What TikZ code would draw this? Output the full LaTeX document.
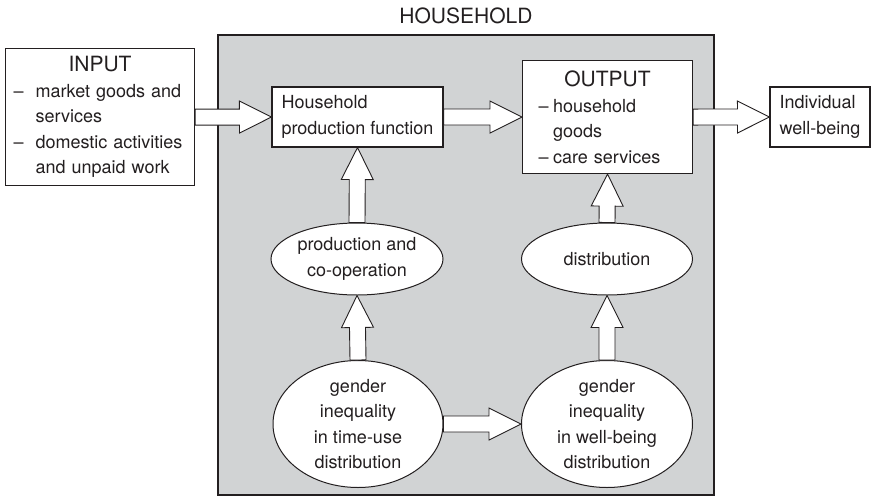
\documentclass[tikz,border=0pt]{standalone}
\usepackage{fontspec}
\setmainfont{TeX Gyre Heros}
\usetikzlibrary{positioning,calc,shapes.geometric}
\definecolor{housegray}{RGB}{209,211,212}
\definecolor{inkgray}{RGB}{35,31,32}
\newcommand{\bodyfont}{\fontsize{18}{25.5}\selectfont}
\newcommand{\headfont}{\fontsize{21}{25.5}\selectfont}
\newcommand{\listitem}[2]{\makebox[#1][l]{--}#2}
\newcommand{\listmore}[2]{\hspace*{#1}#2}
\newcommand{\boxhead}[1]{\hspace*{\fill}{\headfont #1}\hspace*{\fill}\mbox{}}
\tikzset{
  box/.style={
    draw=inkgray,
    line width=1.1pt,
    fill=white,
    text=inkgray,
    align=left,
    inner sep=8pt,
    font=\bodyfont
  },
  ovalbox/.style={ellipse, draw=inkgray, line width=1pt, fill=white,
    text=inkgray, align=center, inner sep=0pt, font=\bodyfont},
  housebox/.style={draw=inkgray, line width=2pt, fill=housegray},
  titletext/.style={text=inkgray, font=\headfont, inner sep=0pt},
  hollow/.style={draw=inkgray, line width=0.9pt, fill=white, line join=miter}
}
% hollow block arrow from #1 to #2
\newcommand{\hollowarrow}[2]{%
  \coordinate (ah) at ($(#2)!32pt!(#1)$);
  \draw[hollow] ($(#1)!8pt!90:(#2)$) -- ($(ah)!8pt!90:(#2)$) -- ($(ah)!16pt!90:(#2)$) -- (#2)
    -- ($(ah)!16pt!-90:(#2)$) -- ($(ah)!8pt!-90:(#2)$) -- ($(#1)!8pt!-90:(#2)$) -- cycle;}

\begin{document}
\begin{tikzpicture}[x=1pt, y=-1pt]
  \useasboundingbox (0,0) rectangle (873,501);
  \node[housebox, anchor=north west, minimum width=496pt, minimum height=460pt] (house) at (217,34) {};
  \node[titletext, anchor=base] (hhtitle) at ([yshift=11pt]house.north) {HOUSEHOLD};

  \node[box, anchor=north west, text width=173pt, minimum height=137pt] (input) at (5,48)
    {\boxhead{INPUT}\\
     \listitem{22pt}{market goods and}\\
     \listmore{22pt}{services}\\
     \listitem{22pt}{domestic activities}\\
     \listmore{22pt}{and unpaid work}};
  \node[box, minimum width=171pt, minimum height=60pt] (prod) at (357.5,117)
    {Household\\production function};
  \node[box, anchor=north west, inner xsep=16pt, text width=138pt, minimum height=113pt] (output) at (522,60)
    {\boxhead{OUTPUT}\\
     \listitem{14.5pt}{household}\\
     \listmore{14.5pt}{goods}\\
     \listitem{14.5pt}{care services}};
  \node[box, minimum width=100pt, minimum height=60pt] (indiv) at (820,117)
    {Individual\\well-being};

  \node[ovalbox, minimum width=172pt, minimum height=72pt] (coop) at (357,259)
    {production and\\co-operation};
  \node[ovalbox, minimum width=171pt, minimum height=72pt] (distr) at (607,259)
    {distribution};
  \node[ovalbox, inner ysep=-6pt, minimum width=170pt, minimum height=127pt] (timeuse) at (358,424)
    {gender\\inequality\\in time-use\\distribution};
  \node[ovalbox, inner ysep=-6pt, minimum width=171pt, minimum height=127pt] (wellbeing) at (607,424)
    {gender\\inequality\\in well-being\\distribution};

  \hollowarrow{input.east}{prod.west}
  \hollowarrow{prod.east}{output.west}
  \hollowarrow{output.east}{indiv.west}
  \hollowarrow{coop.north}{prod.south}
  \hollowarrow{distr.north}{output.south}
  \hollowarrow{timeuse.north}{coop.south}
  \hollowarrow{wellbeing.north}{distr.south}
  \hollowarrow{timeuse.east}{wellbeing.west}
\end{tikzpicture}
\end{document}
